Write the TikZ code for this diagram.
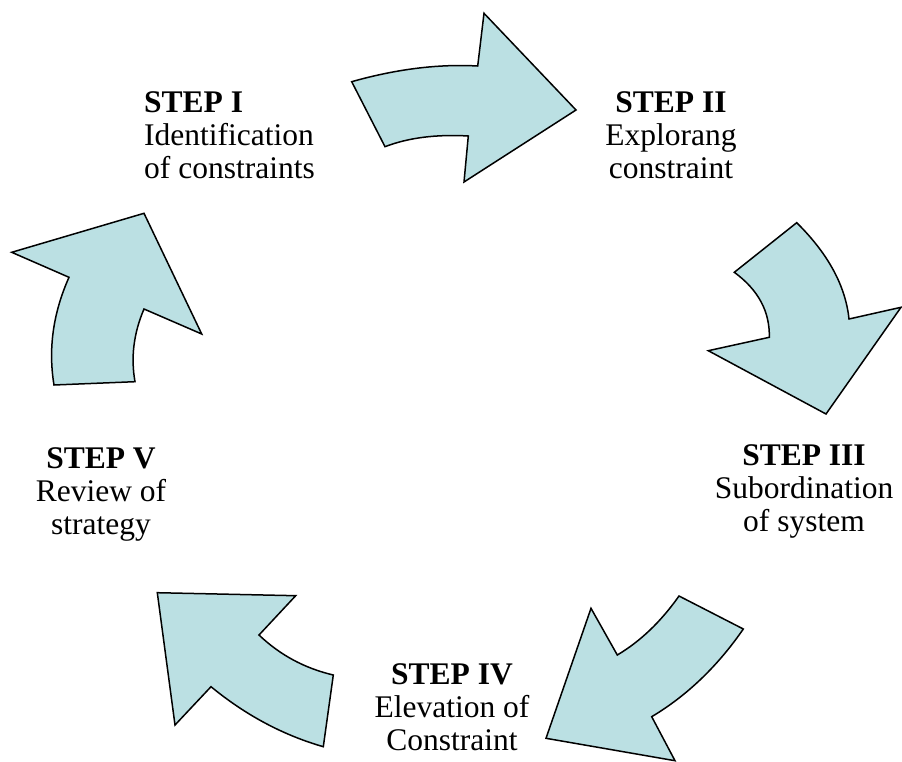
\documentclass[tikz,border=0pt]{standalone}
\usepackage{fontspec}
\setmainfont{Liberation Serif}
\usetikzlibrary{calc}
\definecolor{arrowfill}{HTML}{BBE0E3}
\begin{document}
\begin{tikzpicture}[x=1pt,y=-1pt,
  bigarrow/.style={draw=black,line width=1.5pt,fill=arrowfill,line join=miter},
  steptext/.style={inner sep=0pt,font=\fontsize{31.5}{33}\selectfont}]
\useasboundingbox (0,0) rectangle (902,762);
% Arrow 1 (top, pointing right)
\draw[bigarrow] (351.7,81.7)
  .. controls ($(351.7,81.7)!2/3!(418.7,62.75)$) and ($(477.7,66)!2/3!(418.7,62.75)$) .. (477.7,66)
  -- (484,13.3) -- (576,110) -- (464,182) -- (468.3,136)
  .. controls ($(468.3,136)!2/3!(419.95,133.25)$) and ($(385,146.7)!2/3!(419.95,133.25)$) .. (385,146.7)
  -- cycle;
% Arrow 2 (right, pointing down)
\draw[bigarrow] (796.7,222.7) -- (734.3,272.3)
  .. controls ($(734.3,272.3)!2/3!(770.2,298.6)$) and ($(769.3,337.3)!2/3!(770.2,298.6)$) .. (769.3,337.3)
  -- (708.3,350.7) -- (826,414) -- (901,307.3) -- (849,319)
  .. controls ($(849,319)!2/3!(843.75,269.15)$) and ($(796.7,222.7)!2/3!(843.75,269.15)$) .. cycle;
% Arrow 3 (bottom right, pointing down-left)
\draw[bigarrow] (679,596) -- (743.3,629)
  .. controls ($(743.3,629)!2/3!(704.5,685.15)$) and ($(651.7,716.7)!2/3!(704.5,685.15)$) .. (651.7,716.7)
  -- (675,760.7) -- (546,738.3) -- (591,608.3) -- (617.3,655)
  .. controls ($(617.3,655)!2/3!(651.85,634.5)$) and ($(679,596)!2/3!(651.85,634.5)$) .. cycle;
% Arrow 4 (bottom left, pointing up-left)
\draw[bigarrow] (157.3,592.7) -- (295.7,595.7) -- (259,635)
  .. controls ($(259,635)!2/3!(290.45,665)$) and ($(333.3,675)!2/3!(290.45,665)$) .. (333.3,675)
  -- (323.3,746.7)
  .. controls ($(323.3,746.7)!2/3!(262.85,729.3)$) and ($(211,686.7)!2/3!(262.85,729.3)$) .. (211,686.7)
  -- (175,725) -- cycle;
% Arrow 5 (left, pointing up-right)
\draw[bigarrow] (11.7,252.3) -- (144,213.3) -- (201.7,334) -- (144,309)
  .. controls ($(144,309)!2/3!(128.5,345.25)$) and ($(135,381.7)!2/3!(128.5,345.25)$) .. (135,381.7)
  -- (54,385)
  .. controls ($(54,385)!2/3!(45.1,330.85)$) and ($(69,277.3)!2/3!(45.1,330.85)$) .. (69,277.3)
  -- cycle;
% Texts
\node[steptext,align=left,anchor=west] (s1) at (144,135.5)
  {\textbf{STEP I}\\Identification\\of constraints};
\node[steptext,align=center] (s2) at (671,135)
  {\textbf{STEP II}\\Explorang\\constraint};
\node[steptext,align=center] (s3) at (804,491)
  {\textbf{STEP III}\\Subordination\\of system};
\node[steptext,align=center] (s4) at (452,707)
  {\textbf{STEP IV}\\Elevation of\\Constraint};
\node[steptext,align=center] (s5) at (101,494)
  {\textbf{STEP V}\\Review of\\strategy};
\end{tikzpicture}
\end{document}
